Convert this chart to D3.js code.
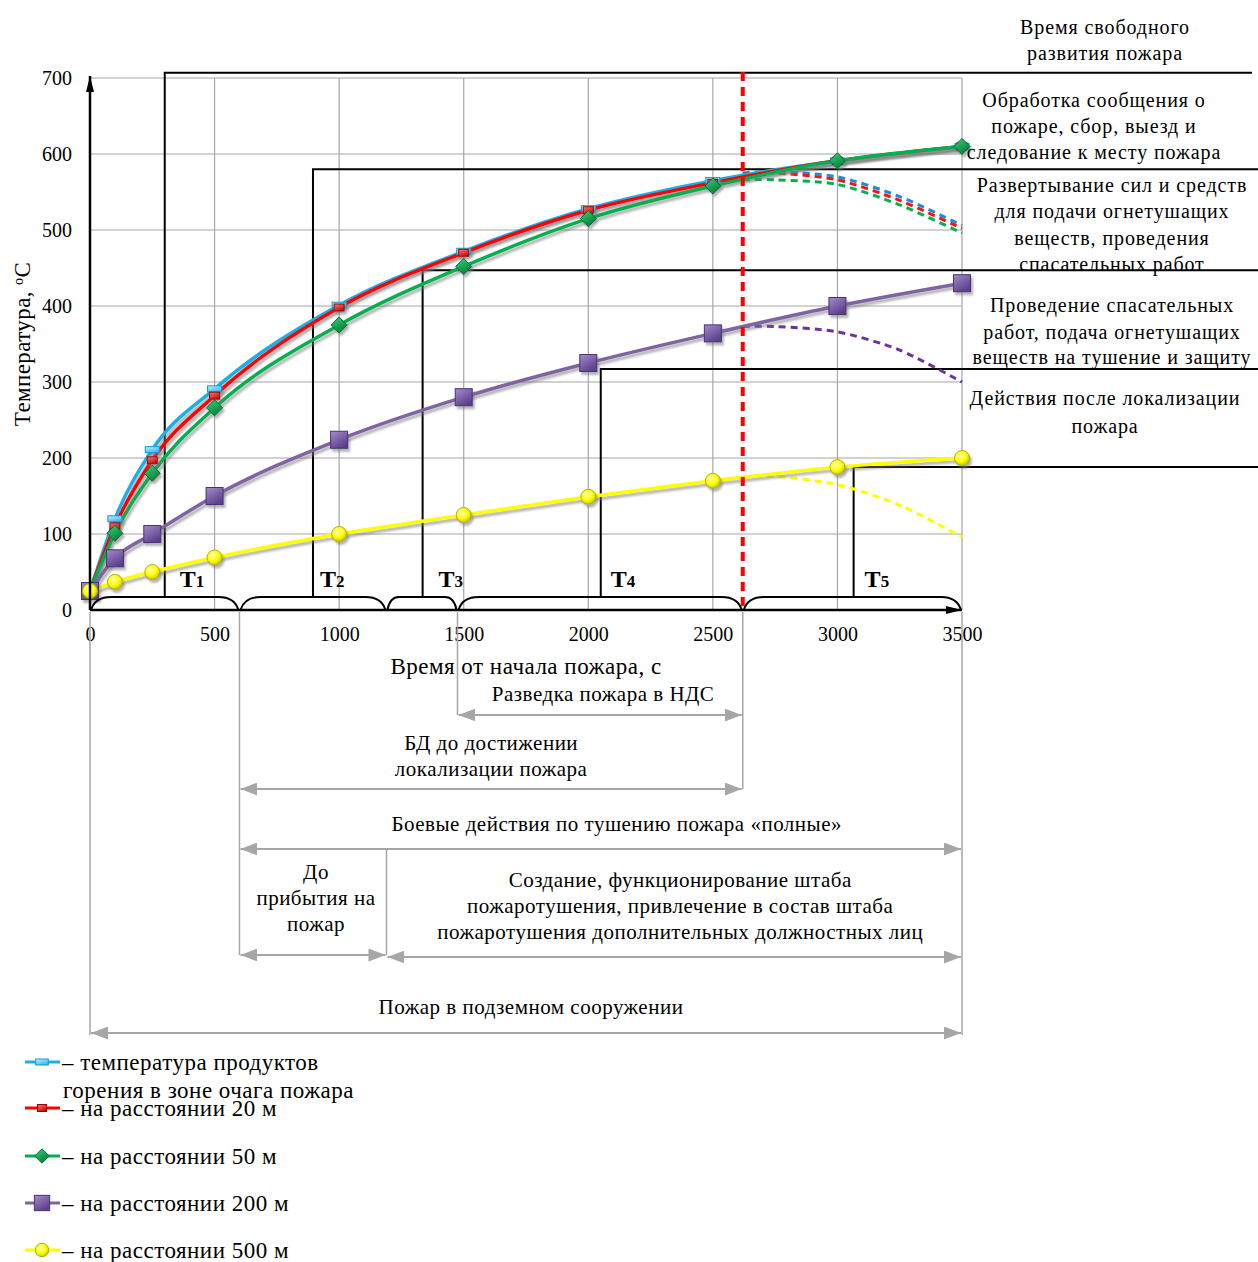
<!DOCTYPE html>
<html><head><meta charset="utf-8">
<script src="https://cdn.jsdelivr.net/npm/d3@7"></script>
<style>
body{margin:0;background:#fff}
svg{display:block}
text{font-family:"Liberation Serif","Times New Roman",serif;fill:#000}
</style>
</head><body>
<svg id="chart" width="1258" height="1262"></svg>
<script>
// ---------- DATA ----------
const times = [0, 100, 250, 500, 1000, 1500, 2000, 2500, 3000, 3500];
const tempSource = [25, 120, 211, 291, 401, 472, 528, 565, 591, 610];
const temp20m   = [25, 110, 197, 282, 398, 470, 526, 562, 591, 610];
const temp50m   = [25, 101, 180, 266, 375, 452, 515, 558, 591, 610];
const temp200m  = [25, 68, 100, 150, 224, 280, 325, 364, 400, 430];
const temp500m  = [25, 37, 50, 69, 100, 125, 149, 170, 188, 200];

const forecastTimes   = [2620, 2750, 3000, 3250, 3500];
const forecastSource  = [575, 577, 570, 544, 506];
const forecast20m     = [573, 575, 566, 539, 502];
const forecast50m     = [566, 566, 560, 533, 496];
const forecast200m    = [373, 373, 366, 342, 300];
const forecast500m    = [175, 176, 165, 138, 96];

const localizationTime = 2620;
const xTickValues = [0, 500, 1000, 1500, 2000, 2500, 3000, 3500];
const yTickValues = [0, 100, 200, 300, 400, 500, 600, 700];

const phaseBounds = [0, 600, 1190, 1475, 2620, 3500];
const phaseNames = ["1", "2", "3", "4", "5"];
const stepTimes = [300, 895, 1335, 2050, 3065];
const stepTemps = [707, 580, 447, 317, 188];

const stageLabels = [
  ["Время свободного", "развития пожара"],
  ["Обработка сообщения о", "пожаре, сбор, выезд и", "следование к месту пожара"],
  ["Развертывание сил и средств", "для подачи огнетушащих", "веществ, проведения", "спасательных работ"],
  ["Проведение спасательных", "работ, подача огнетушащих", "веществ на тушение и защиту"],
  ["Действия после локализации", "пожара"]
];

const spanLabels = [
  ["Разведка пожара в НДС"],
  ["БД до достижении", "локализации пожара"],
  ["Боевые действия по тушению пожара «полные»"],
  ["До", "прибытия на", "пожар"],
  ["Создание, функционирование штаба", "пожаротушения, привлечение в состав штаба", "пожаротушения дополнительных должностных лиц"],
  ["Пожар в подземном сооружении"]
];
const spanFrom = [1475, 600, 600, 600, 1190, 0];
const spanTo   = [2620, 2620, 3500, 1190, 3500, 3500];

const seriesNames = [
  ["– температура продуктов", "горения в зоне очага пожара"],
  ["– на расстоянии 20 м"],
  ["– на расстоянии 50 м"],
  ["– на расстоянии 200 м"],
  ["– на расстоянии 500 м"]
];

// ---------- SETUP ----------
const svg = d3.select("#chart");
const x = d3.scaleLinear().domain([0, 3500]).range([90, 962]);
const y = d3.scaleLinear().domain([0, 700]).range([610, 78]);

const defs = svg.append("defs");
const shadow = defs.append("filter").attr("id", "shadow").attr("x", "-5%").attr("y", "-5%").attr("width", "110%").attr("height", "120%");
shadow.append("feDropShadow").attr("dx", 2).attr("dy", 3).attr("stdDeviation", 1.2).attr("flood-color", "#777").attr("flood-opacity", 0.55);

function linGrad(id, c1, c2) {
  const g = defs.append("linearGradient").attr("id", id).attr("x1", 0).attr("y1", 0).attr("x2", 0.6).attr("y2", 1);
  g.append("stop").attr("offset", "0%").attr("stop-color", c1);
  g.append("stop").attr("offset", "100%").attr("stop-color", c2);
}
linGrad("gPurple", "#a48ccc", "#5b3f8a");
linGrad("gGreen", "#3fd27a", "#00803a");
linGrad("gCyan", "#c8f0ff", "#3cb8ea");
linGrad("gRed", "#ff7a70", "#c01010");
const rg = defs.append("radialGradient").attr("id", "gYellow").attr("cx", "40%").attr("cy", "35%").attr("r", "65%");
rg.append("stop").attr("offset", "0%").attr("stop-color", "#ffffb0");
rg.append("stop").attr("offset", "60%").attr("stop-color", "#ffff00");
rg.append("stop").attr("offset", "100%").attr("stop-color", "#c9c900");

function arrowMarker(id, color, w, h) {
  defs.append("marker").attr("id", id).attr("markerUnits", "userSpaceOnUse")
    .attr("viewBox", `0 0 ${w} ${h}`).attr("refX", w).attr("refY", h / 2)
    .attr("markerWidth", w).attr("markerHeight", h).attr("orient", "auto-start-reverse")
    .append("path").attr("d", `M0,0L${w},${h / 2}L0,${h}Z`).attr("fill", color);
}
arrowMarker("arrGray", "#a6a6a6", 17, 13);
arrowMarker("arrBlack", "#000", 16, 8);

const series = [
  { values: tempSource, forecast: forecastSource, color: "#19b0ea", dash: "#1e8be0", marker: "bar" },
  { values: temp20m, forecast: forecast20m, color: "#ff0000", dash: "#ff1010", marker: "rect" },
  { values: temp50m, forecast: forecast50m, color: "#00b050", dash: "#00b050", marker: "diamond" },
  { values: temp200m, forecast: forecast200m, color: "#8064a2", dash: "#7030a0", marker: "square" },
  { values: temp500m, forecast: forecast500m, color: "#ffff00", dash: "#ffff00", marker: "circle" }
];

// ---------- GRID ----------
const grid = svg.append("g").attr("stroke", "#a6a6a6").attr("stroke-width", 1.2);
grid.selectAll(".gx").data(xTickValues).join("line")
  .attr("x1", d => x(d)).attr("x2", d => x(d)).attr("y1", y(0)).attr("y2", y(700));
grid.selectAll(".gy").data(yTickValues).join("line")
  .attr("x1", x(0)).attr("x2", x(3500)).attr("y1", d => y(d)).attr("y2", d => y(d));

// ---------- AXES ----------
const yAxis = d3.axisLeft(y).tickValues(yTickValues).tickSize(0).tickPadding(18);
svg.append("g").attr("transform", `translate(${x(0)},0)`).call(yAxis)
  .call(g => g.select(".domain").remove())
  .call(g => g.selectAll("text").attr("font-size", 20).attr("font-family", "Liberation Serif"));
const xAxis = d3.axisBottom(x).tickValues(xTickValues).tickSize(0).tickPadding(17).tickFormat(d3.format("d"));
svg.append("g").attr("transform", `translate(0,${y(0)})`).call(xAxis)
  .call(g => g.select(".domain").remove())
  .call(g => g.selectAll("text").attr("font-size", 20).attr("font-family", "Liberation Serif"));

svg.append("text").attr("transform", `translate(30,${y(350)}) rotate(-90)`).attr("text-anchor", "middle")
  .attr("font-size", 23).attr("letter-spacing", 0.4)
  .html('Температура, <tspan baseline-shift="super" font-size="14">o</tspan>C');
svg.append("text").attr("x", 526).attr("y", 674).attr("text-anchor", "middle").attr("font-size", 23)
  .attr("letter-spacing", 0.5).text("Время от начала пожара, с");

// ---------- STEP LINES (stages) ----------
const steps = svg.append("g").attr("stroke", "#000").attr("stroke-width", 2).attr("fill", "none");
stepTimes.forEach((t, i) => {
  steps.append("path").attr("d", `M${x(t)},597V${y(stepTemps[i])}H${i === 0 ? 1252 : 1258}`);
});

// ---------- SERIES ----------
const line = d3.line().x(d => x(d[0])).y(d => y(d[1])).curve(d3.curveMonotoneX);
const lineCR = d3.line().x(d => x(d[0])).y(d => y(d[1])).curve(d3.curveCardinal.tension(0.2));

series.forEach(s => {
  svg.append("path").datum(forecastTimes.map((t, i) => [t, s.forecast[i]]))
    .attr("d", lineCR).attr("fill", "none").attr("stroke", s.dash).attr("stroke-width", 3)
    .attr("stroke-dasharray", "7,5");
});
series.forEach(s => {
  svg.append("path").datum(times.map((t, i) => [t, s.values[i]]))
    .attr("d", line).attr("fill", "none").attr("stroke", s.color).attr("stroke-width", 3.5)
    .attr("filter", "url(#shadow)");
});

function drawMarker(g, type, cx, cy, scale = 1) {
  if (type === "bar") {
    g.append("rect").attr("x", cx - 7 * scale).attr("y", cy - 3).attr("width", 14 * scale).attr("height", 6)
      .attr("fill", "url(#gCyan)").attr("stroke", "#129ad0").attr("stroke-width", 1);
  } else if (type === "rect") {
    g.append("rect").attr("x", cx - 5 * scale).attr("y", cy - 3.5).attr("width", 10 * scale).attr("height", 7)
      .attr("fill", "url(#gRed)").attr("stroke", "#a00000").attr("stroke-width", 1);
  } else if (type === "diamond") {
    const r = 8 * scale;
    g.append("path").attr("d", `M${cx},${cy - r}L${cx + r},${cy}L${cx},${cy + r}L${cx - r},${cy}Z`)
      .attr("fill", "url(#gGreen)").attr("stroke", "#006a30").attr("stroke-width", 1);
  } else if (type === "square") {
    const r = 8.5 * scale;
    g.append("rect").attr("x", cx - r).attr("y", cy - r).attr("width", 2 * r).attr("height", 2 * r)
      .attr("fill", "url(#gPurple)").attr("stroke", "#4b3075").attr("stroke-width", 1);
  } else {
    g.append("circle").attr("cx", cx).attr("cy", cy).attr("r", 7.5 * scale)
      .attr("fill", "url(#gYellow)").attr("stroke", "#b0b000").attr("stroke-width", 1);
  }
}
const markersG = svg.append("g").attr("filter", "url(#shadow)");
series.forEach(s => {
  times.forEach((t, i) => drawMarker(markersG, s.marker, x(t), y(s.values[i])));
});

// ---------- AXIS LINES ----------
svg.append("line").attr("x1", x(0)).attr("x2", x(0)).attr("y1", y(0)).attr("y2", y(700) - 2)
  .attr("stroke", "#000").attr("stroke-width", 2.5).attr("marker-end", "url(#arrBlack)");
svg.append("line").attr("x1", x(0)).attr("x2", x(3500)).attr("y1", y(0)).attr("y2", y(0))
  .attr("stroke", "#000").attr("stroke-width", 2.5).attr("marker-end", "url(#arrBlack)");

// braces
const braces = svg.append("g").attr("stroke", "#000").attr("stroke-width", 2).attr("fill", "none");
for (let i = 0; i < phaseBounds.length - 1; i++) {
  const a = x(phaseBounds[i]) + 1, b = x(phaseBounds[i + 1]) - 1;
  const r = Math.min(20, (b - a) / 6);
  braces.append("path").attr("d",
    `M${a},${y(0)}Q${a + r * 0.2},${597} ${a + r},${597}H${b - r}Q${b - r * 0.2},${597} ${b},${y(0)}`);
}

// T labels
const tLabelDX = [15, 7, 16, 10, 11];
stepTimes.forEach((t, i) => {
  const tx = svg.append("text").attr("x", x(t) + tLabelDX[i]).attr("y", 587).attr("font-weight", "bold").attr("font-size", 24);
  tx.append("tspan").text("T");
  tx.append("tspan").attr("font-size", 17).text(phaseNames[i]);
});

// localization dashed line
svg.append("line").attr("x1", x(localizationTime)).attr("x2", x(localizationTime))
  .attr("y1", 72).attr("y2", y(0)).attr("stroke", "#ff0000").attr("stroke-width", 4).attr("stroke-dasharray", "9,6");

// ---------- STAGE LABELS (right) ----------
const stageCenters = [[1105, [27, 53]], [1094, [100, 126, 152]], [1112, [185, 211, 238, 264]], [1112, [305, 332, 357]], [1105, [398, 426]]];
stageLabels.forEach((lines, i) => {
  lines.forEach((l, j) => {
    svg.append("text").attr("x", stageCenters[i][0]).attr("y", stageCenters[i][1][j] + 7)
      .attr("text-anchor", "middle").attr("font-size", 20).attr("letter-spacing", 0.9).text(l);
  });
});

// ---------- SPANS (bottom) ----------
const connectors = [[0, 612, 1035], [600, 612, 955], [1190, 849, 955], [1475, 612, 715], [2620, 612, 789], [3500, 612, 1035]];
svg.append("g").attr("stroke", "#a6a6a6").attr("stroke-width", 1.5).selectAll("line").data(connectors).join("line")
  .attr("x1", d => x(d[0])).attr("x2", d => x(d[0])).attr("y1", d => d[1]).attr("y2", d => d[2]);

const spanY = [715, 789, 849, 955, 957, 1033];
const spanTextY = [[694], [743, 769], [824], [872, 898, 924], [880, 906, 932], [1007]];
const spanTextDX = [3, 0, 16, 3, 6, 5];
spanLabels.forEach((lines, i) => {
  const a = x(spanFrom[i]), b = x(spanTo[i]);
  svg.append("line").attr("x1", a + 1).attr("x2", b - 1).attr("y1", spanY[i]).attr("y2", spanY[i])
    .attr("stroke", "#a6a6a6").attr("stroke-width", 2.2)
    .attr("marker-start", "url(#arrGray)").attr("marker-end", "url(#arrGray)");
  lines.forEach((l, j) => {
    svg.append("text").attr("x", (a + b) / 2 + spanTextDX[i]).attr("y", spanTextY[i][j] + 7)
      .attr("text-anchor", "middle").attr("font-size", 21).attr("letter-spacing", 0.5).text(l);
  });
});

// ---------- LEGEND ----------
const legendY = [1062, 1108, 1156, 1203, 1250];
series.forEach((s, i) => {
  const g = svg.append("g");
  g.append("line").attr("x1", 25).attr("x2", 60).attr("y1", legendY[i]).attr("y2", legendY[i])
    .attr("stroke", s.color).attr("stroke-width", 3);
  drawMarker(g, s.marker, 42, legendY[i], 0.9);
  seriesNames[i].forEach((l, j) => {
    g.append("text").attr("x", j === 0 ? 62 : 63).attr("y", legendY[i] + 8 + j * 28)
      .attr("font-size", 23).attr("letter-spacing", 0.5).text(l);
  });
});
</script>
</body></html>
